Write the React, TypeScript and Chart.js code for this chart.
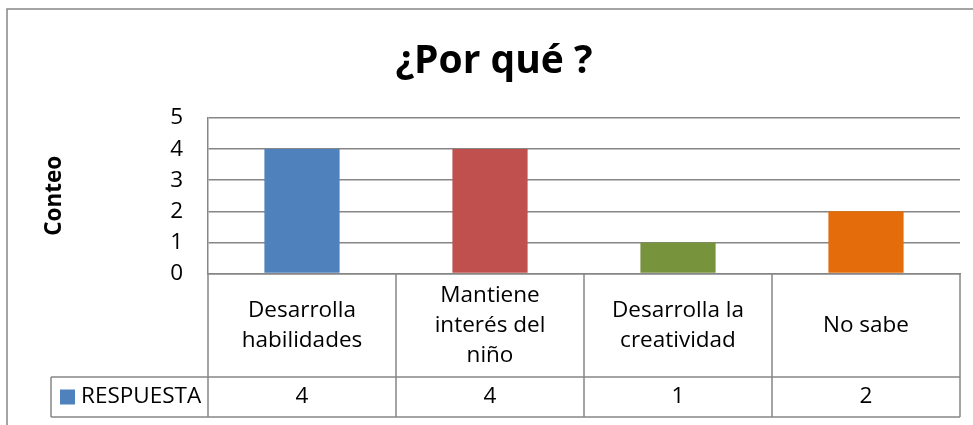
import React, { useEffect, useRef } from "react";
import { Chart, registerables } from "chart.js";

Chart.register(...registerables);

const TITLE = "¿Por qué ?";
const Y_TITLE = "Conteo";
const SERIES_NAME = "RESPUESTA";
const categories: string[][] = [
  ["Desarrolla", "habilidades"],
  ["Mantiene", "interés del", "niño"],
  ["Desarrolla la", "creatividad"],
  ["No sabe"],
];
const values: number[] = [4, 4, 1, 2];
const barColors: string[] = ["#4F81BD", "#C0504D", "#77933C", "#E46C0A"];
const yTicks: number[] = [0, 1, 2, 3, 4, 5];

const FONT = "'Open Sans', 'Liberation Sans', sans-serif";
const LINE = "#868686";
const TEXT_SIZE = 22.5;

const tablePlugin = {
  id: "excelDataTable",
  afterDraw(chart: any) {
    const ctx: CanvasRenderingContext2D = chart.ctx;
    const { left, right, bottom } = chart.chartArea;
    const xs = chart.scales.x;
    const n = values.length;
    const half = (right - left) / n / 2;
    const catBottom = bottom + 103.5;
    const valBottom = catBottom + 40;
    const legendLeft = 51;

    ctx.save();
    ctx.strokeStyle = LINE;
    ctx.lineWidth = 1.5;

    // outer chart border
    ctx.beginPath();
    ctx.moveTo(7, 440);
    ctx.lineTo(7, 9);
    ctx.lineTo(990, 9);
    ctx.stroke();

    // horizontal table lines
    ctx.beginPath();
    ctx.moveTo(legendLeft, catBottom);
    ctx.lineTo(right, catBottom);
    ctx.moveTo(legendLeft, valBottom);
    ctx.lineTo(right, valBottom);
    ctx.moveTo(legendLeft, catBottom);
    ctx.lineTo(legendLeft, valBottom);
    ctx.stroke();

    // vertical separators
    ctx.beginPath();
    ctx.moveTo(left, bottom);
    ctx.lineTo(left, valBottom);
    for (let i = 0; i < n; i++) {
      const cx = xs.getPixelForValue(i);
      ctx.moveTo(cx + half, bottom);
      ctx.lineTo(cx + half, valBottom);
    }
    ctx.stroke();

    // texts
    ctx.fillStyle = "#000";
    ctx.font = `${TEXT_SIZE}px ${FONT}`;
    ctx.textAlign = "center";
    ctx.textBaseline = "middle";
    const lh = 30;
    const catMid = (bottom + catBottom) / 2;
    const valMid = (catBottom + valBottom) / 2;
    categories.forEach((lines, i) => {
      const cx = xs.getPixelForValue(i);
      const start = catMid - ((lines.length - 1) * lh) / 2;
      lines.forEach((t, j) => ctx.fillText(t, cx, start + j * lh));
      ctx.fillText(String(values[i]), cx, valMid);
    });

    // legend key
    ctx.fillStyle = barColors[0];
    ctx.fillRect(60, valMid - 7.5, 15, 15);
    ctx.fillStyle = "#000";
    ctx.textAlign = "left";
    ctx.fillText(SERIES_NAME, 81, valMid);
    ctx.restore();
  },
};

export default function App() {
  const ref = useRef<HTMLCanvasElement>(null);
  useEffect(() => {
    const chart = new Chart(ref.current as HTMLCanvasElement, {
      type: "bar",
      data: {
        labels: categories,
        datasets: [
          {
            label: SERIES_NAME,
            data: values,
            backgroundColor: barColors,
            borderWidth: 0,
            categoryPercentage: 0.4,
            barPercentage: 1,
          },
        ],
      },
      options: {
        responsive: false,
        animation: false,
        events: [],
        layout: { padding: { left: 28, right: 13, top: 0, bottom: 151.5 } },
        plugins: {
          legend: { display: false },
          tooltip: { enabled: false },
          title: {
            display: true,
            text: TITLE,
            color: "#000",
            font: { family: FONT, size: 39, weight: "bold" },
            padding: { top: 38.6, bottom: 32.6 },
          },
        },
        scales: {
          x: {
            grid: { display: false },
            border: { display: true, color: LINE, width: 1.5 },
            ticks: { display: false },
            afterFit: (s: any) => {
              s.height = 0;
            },
          },
          y: {
            min: yTicks[0],
            max: yTicks[yTicks.length - 1],
            ticks: {
              stepSize: 1,
              padding: 25,
              color: "#000",
              font: { family: FONT, size: TEXT_SIZE },
            },
            grid: { color: LINE, lineWidth: 1.5, drawTicks: false },
            border: { display: true, color: LINE, width: 1.5 },
            title: {
              display: true,
              text: Y_TITLE,
              color: "#000",
              font: { family: FONT, size: TEXT_SIZE, weight: "bold" },
              padding: { top: 13.5, bottom: 0 },
            },
            afterFit: (s: any) => {
              s.width = 180;
            },
          },
        },
      },
      plugins: [tablePlugin],
    } as any);
    return () => chart.destroy();
  }, []);
  return (
    <div style={{ position: "fixed", left: 0, top: 0, width: 973, height: 425, background: "#fff" }}>
      <canvas ref={ref} width={973} height={425} style={{ width: 973, height: 425, display: "block" }} />
    </div>
  );
}
